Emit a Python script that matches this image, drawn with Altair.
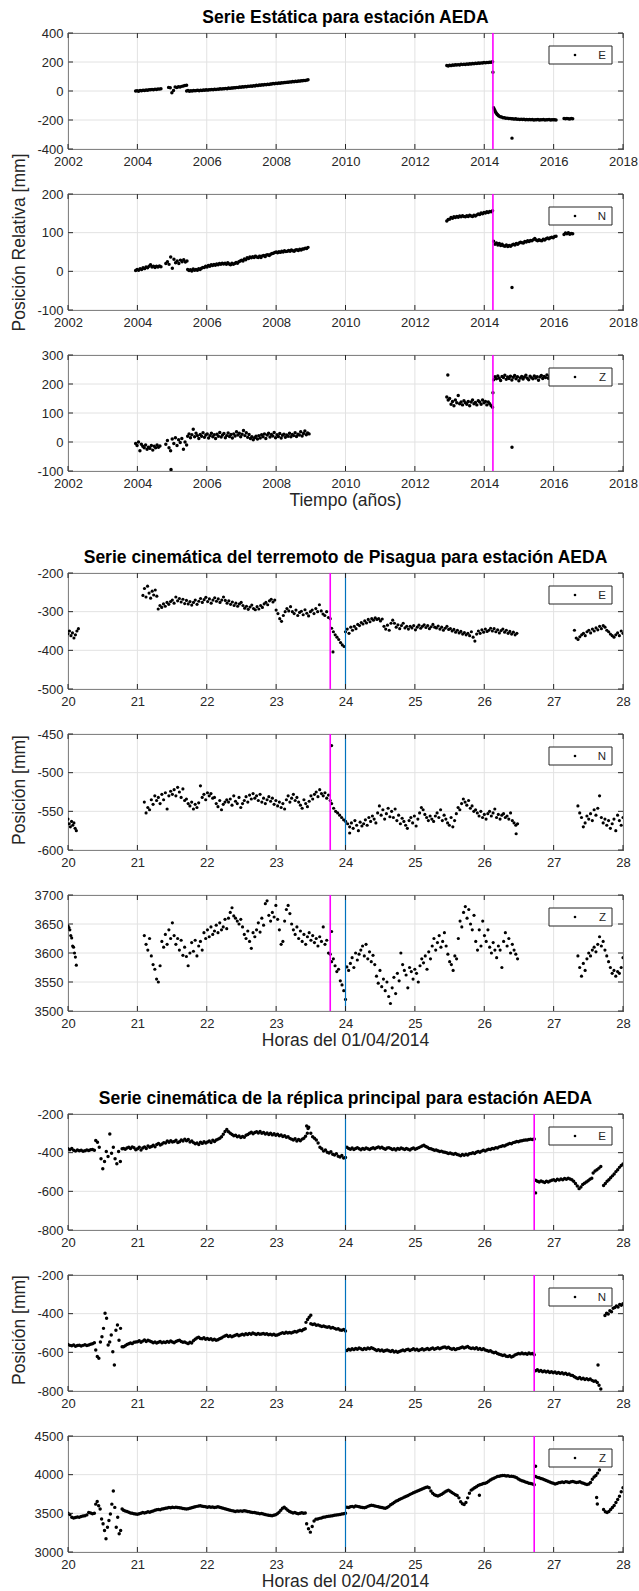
import altair as alt
import numpy as np
import pandas as pd

FONT = "Liberation Sans"
INK = "#262626"
GRID = "#E2E2E2"
MAGENTA = "#FF00FF"
BLUE = "#0072BD"
W, H = 555, 116
TICK = 5

# ---------------- Static series (decimal years, mm) ----------------
est_e_a = [0, 2, -1, 3, 1, 5, 3, 7, 5, 9, 8, 11, 9, 13, 11, 14, 13, 15]
est_e_b = [25, 22, -12, 4, 28, 24, 30, 27, 32, 35, 38, 40]
est_e_c = [0, 3, -1, 2, 0, 4, 1, 3, 5, 2, 6, 4, 7, 5, 8, 6, 9, 8, 11, 9, 12, 10, 13, 12, 15, 13, 16, 15,
           18, 16, 20, 18, 21, 20, 23, 22, 25, 24, 27, 26, 29, 28, 31, 30, 33, 32, 35, 33, 37, 35, 39, 37,
           41, 39, 43, 41, 45, 43, 47, 45, 49, 48, 51, 50, 53, 52, 55, 54, 57, 56, 59, 58, 61, 60, 63, 62,
           65, 64, 67, 66, 69, 68, 71, 70, 73, 72, 75, 77]
est_e_d = [176, 173, 178, 175, 179, 177, 181, 179, 182, 180, 184, 182, 185, 183, 187, 185, 188, 186, 190,
           188, 191, 189, 193, 191, 194, 193, 196, 194, 197, 196, 199, 198, 201]
est_e_e1 = [-115, -125, -135, -145, -152, -158, -163, -167]
est_e_e2 = [-172, -177, -179, -184, -184, -188, -187, -190, -189, -192, -191, -194, -192, -195, -194, -196,
            -194, -197, -195, -198, -196, -198, -197, -199, -197, -200, -198, -199, -197, -200, -198, -199,
            -197, -200, -198, -199, -197, -200, -198, -199, -198, -200]
est_e_f = [-190, -192, -189, -191, -193, -190, -191]
est_e_out = [(2014.25, 130), (2014.80, -325)]

est_n_a = [2, 5, 3, 7, 5, 9, 7, 11, 9, 13, 17, 11, 13, 10, 13, 11, 14, 12]
est_n_b = [20, 25, 18, 37, 8, 31, 22, 27, 20, 29, 25, 30, 24, 27]
est_n_c = [5, 2, 4, 1, 6, 3, 5, 3, 7, 5, 8, 10,
           10, 13, 11, 15, 13, 17, 15, 18, 16, 19, 17, 20, 18, 21, 19,
           21, 18, 22, 19, 17, 21, 18, 20, 23, 21, 25, 27,
           29, 27, 32, 30, 35, 33, 37, 35, 38, 36, 39, 37, 36,
           39, 36, 40, 41, 38, 42, 43, 41, 44, 46, 47, 49,
           50, 48, 51, 49, 52, 50, 53, 51, 52, 54, 52, 55, 53, 52, 55, 56, 54, 57, 55, 58, 58, 60, 59, 62]
est_n_d = [130, 134, 135, 139, 137, 141, 139, 142, 140, 143, 141, 144, 142, 141, 144, 142, 145, 143, 142,
           145, 143, 146, 148, 147, 151, 149, 152, 151, 154, 152, 155, 154, 157]
est_n_e = [78, 70, 73, 68, 72, 67, 70, 66, 65, 68, 64, 67, 65, 68, 70, 68, 72, 70, 73, 75, 74, 73, 77, 76,
           79, 77, 80, 79, 82, 85, 81, 79, 82, 80, 79, 83, 81, 84, 86, 84, 87, 88, 87, 90, 91]
est_n_f = [95, 99, 97, 100, 96, 98, 97]
est_n_out = [(2014.80, -42)]

est_z_a = [-5, -12, 0, -30, -8, -15, -20, -10, -25, -18, -22, -12, -28, -15, -20, -10, -18, -14]
est_z_b = [-8, 5, -20, -30, 10, -5, 15, -12, 8, -2, 12, -25, 0, -10]
est_z_c = [20, 28, 15, 25, 44, 18, 30, 22, 12, 26, 20, 32, 16, 24, 28, 14, 22, 30, 18, 25, 12, 27, 20, 33,
           17, 24, 29, 15, 22, 31, 19, 26, 14, 28, 21, 35, 24, 30, 18, 27, 40, 22, 32, 16, 26, 12, 18, 8,
           15, 20, 10, 22, 14, 25, 18, 28, 12, 24, 30, 17, 26, 21, 33, 15, 25, 19, 29, 14, 23, 27, 16, 24,
           20, 30, 18, 26, 22, 32, 19, 27, 24, 35, 21, 29, 38, 25, 31, 28]
est_z_d = [155, 145, 150, 130, 140, 125, 145, 135, 160, 132, 138, 128, 142, 135, 130, 140, 125, 138, 145,
           132, 136, 128, 142, 138, 130, 145, 135, 140, 128, 138, 132, 125, 120]
est_z_e = [215, 225, 218, 228, 220, 212, 226, 222, 230, 216, 224, 219, 227, 214, 223, 229, 218, 225, 211,
           221, 226, 217, 224, 230, 220, 215, 227, 222, 218, 228, 221, 225, 213, 224, 229, 219, 226, 222,
           231, 220, 227, 224, 229, 226, 232]
est_z_out = [(2004.97, -95), (2012.95, 231), (2014.25, 170), (2014.80, -18)]

# ---------------- Pisagua mainshock, hours of 01/04/2014 ----------------
pis_e_a = [-357, -350, -362, -355, -368, -360, -350, -344]
pis_e_b = [-258, -240, -262, -234, -252, -265, -247, -257, -244, -260]
pis_e_c = [-293, -284, -289, -280, -286, -276, -281, -274,
           -270, -278, -262, -272, -266, -275, -268, -279,
           -271, -280, -274, -283, -276, -270, -281, -273,
           -266, -276, -269, -263, -274, -267, -278, -270,
           -264, -273, -267, -276, -270, -262, -271, -278,
           -272, -281, -275, -284, -278, -286, -280, -276,
           -284, -291, -286, -294, -288, -283, -292, -295,
           -287, -293, -284, -289, -280, -276, -282, -272, -268, -275, -270]
pis_e_d = [-296, -305, -318, -325, -310, -300, -292, -298, -287, -300, -305, -296, -310, -302, -299, -308,
           -295, -304, -311, -300, -296, -305, -292, -300, -282, -298, -306, -310, -300, -315, -318]
pis_e_e = [-343, -352, -360, -366, -372, -380, -386, -390]
pis_e_f = [-352, -345, -356, -340, -348, -338, -344, -333,
           -336, -328, -332, -324, -329, -320, -326, -318,
           -322, -316, -320, -318, -324, -319,
           -338, -345, -335, -348, -330, -322,
           -330, -340, -334, -344, -336, -330, -342, -338,
           -345, -338, -342, -336, -347, -340, -335, -343,
           -338, -334, -341, -336, -344, -339, -333, -340,
           -342, -337, -345, -340, -348, -343, -338, -346,
           -344, -350, -346, -353, -348, -355, -351, -358,
           -354, -360, -356, -362, -352, -366, -376, -358,
           -350, -356, -347, -353, -345, -351, -348, -343,
           -350, -344, -352, -347, -355, -349, -345, -353,
           -348, -356, -351, -358, -353, -360, -356]
pis_e_g = [-348, -368, -372, -365, -360, -356, -362, -352, -348, -355, -345, -350, -342, -347, -338, -344,
           -336, -340, -348, -352, -358, -362, -366, -360, -355, -362, -350, -356]
pis_e_out = [(23.82, -404)]

pis_n_a = [-560, -566, -570, -563, -568, -565, -572, -575]
pis_n_b = [-538, -552, -545, -548, -535, -541, -530, -536,
           -532, -540, -528, -535, -526, -547, -530, -524,
           -528, -522, -530, -519, -525, -532, -521, -536,
           -534, -540, -543, -538, -547, -541, -545, -539,
           -517, -532, -528, -535, -526, -530, -527, -533,
           -532, -540, -544, -536, -548, -541, -538, -535,
           -538, -534, -542, -530, -537, -540, -532, -545,
           -540, -536, -531, -538, -529, -534, -527, -533,
           -530, -536, -528, -538, -533, -540, -535, -531,
           -537, -533, -541, -536, -543, -538, -545, -540,
           -547, -535, -530, -538, -533, -528, -536, -532,
           -538, -542, -546, -535, -540, -544, -537, -530,
           -534, -528, -525, -531, -522, -527, -530, -526, -533, -529, -536]
pis_n_c = [-540, -546, -550, -552, -555, -558, -561, -563, -566, -578]
pis_n_d = [-570, -565, -572, -562, -568, -575, -564, -569,
           -566, -561, -568, -558, -563, -556, -560, -565,
           -552, -543, -555, -548, -560, -553, -546, -557,
           -550, -558, -547, -562, -555, -566, -559, -563,
           -568, -572, -562, -558, -565, -556, -569, -560,
           -552, -545, -548, -554, -558, -562, -556, -560,
           -563, -556, -552, -558, -548, -562, -555, -560,
           -565, -568, -558, -570, -562, -553, -545, -548,
           -540, -534, -538, -542, -536, -546, -543, -550,
           -548, -552, -556, -550, -558, -554, -560, -553,
           -550, -556, -552, -547, -558, -554, -560, -555,
           -553, -558, -556, -560, -552, -562, -565, -568, -566]
pis_n_e = [-543, -552, -558, -570, -565, -556, -560, -553, -562, -548, -555, -546, -530, -558, -565, -560,
           -568, -562, -572, -566, -560, -575, -555, -562, -568, -558]
pis_n_out = [(23.80, -465), (26.46, -579)]

pis_z_a = [3647, 3644, 3640, 3630, 3626, 3612, 3610, 3600, 3593, 3579]
pis_z_b = [3630, 3615, 3605, 3625, 3595, 3580, 3572, 3555,
           3550, 3578, 3620, 3610, 3632, 3615, 3640, 3625,
           3652, 3630, 3615, 3625, 3605, 3622, 3596, 3610,
           3594, 3578, 3600, 3618, 3603, 3622, 3595, 3612,
           3620, 3605, 3635, 3625, 3640, 3628, 3645, 3632,
           3638, 3648, 3635, 3652, 3640, 3645, 3658, 3642,
           3660, 3670, 3678, 3664, 3660, 3655, 3650, 3658,
           3645, 3632, 3625, 3638, 3620, 3608, 3635, 3628,
           3640, 3652, 3636, 3660, 3648, 3685, 3690, 3665,
           3655, 3670, 3662, 3682, 3658, 3640, 3615, 3620,
           3655, 3675, 3682, 3668, 3650, 3640, 3632, 3645,
           3625, 3638, 3620, 3632, 3615, 3628, 3635, 3622,
           3630, 3618, 3625, 3612, 3628, 3620, 3645, 3615, 3622, 3600, 3598]
pis_z_c = [3585, 3590, 3578, 3568, 3572, 3552, 3545, 3535, 3520]
pis_z_d = [3576, 3570, 3582, 3592, 3575, 3600, 3588, 3598,
           3605, 3612, 3595, 3615, 3590, 3602, 3585, 3596,
           3580, 3560, 3548, 3570, 3542, 3555, 3535, 3550,
           3525, 3513, 3540, 3558, 3530, 3565, 3552, 3600,
           3580, 3570, 3562, 3540, 3575, 3568, 3555, 3572,
           3565, 3550, 3578, 3590, 3583, 3595, 3572, 3602,
           3590, 3612, 3625, 3605, 3618, 3630, 3610, 3620,
           3635, 3612, 3598, 3585, 3580, 3570, 3595, 3590,
           3625, 3655, 3645, 3670, 3680, 3660, 3675, 3650,
           3640, 3665, 3620, 3605, 3640, 3612, 3655, 3630,
           3620, 3640, 3610, 3600, 3618, 3605, 3592, 3612,
           3605, 3575, 3620, 3635, 3612, 3625, 3600, 3615, 3605, 3598, 3590]
pis_z_e = [3595, 3575, 3560, 3582, 3570, 3590, 3600, 3595, 3605, 3610, 3602, 3615, 3628, 3612, 3620, 3605,
           3595, 3585, 3575, 3565, 3570, 3560, 3568, 3565, 3575, 3592]
pis_z_out = [(23.80, 3637)]

# ---------------- Main aftershock, hours of 02/04/2014 ----------------
rep_e_a = [-380, -385, -378, -388, -392, -386, -390, -388, -393, -390, -386, -389, -385, -384, -388]
rep_e_b = [-337, -346, -372, -431, -483, -446, -394, -420, -303, -403, -372, -431, -457, -394, -446, -380]
rep_e_c = [-378, -382, -376, -372, -378, -370, -375, -385,
           -380, -372, -386, -376, -370, -378, -365, -372,
           -368, -362, -370, -358, -352, -360, -355, -348,
           -350, -340, -346, -338, -345, -342, -336, -348,
           -344, -335, -340, -330, -338, -332, -345, -340,
           -348, -354, -350, -358, -346, -352, -344, -350,
           -345, -340, -348, -336, -342, -334, -330, -325,
           -318, -305, -290, -280, -292, -300, -306, -312,
           -310, -318, -314, -322, -316, -320, -310, -306,
           -300, -294, -302, -296, -292, -298, -290, -300,
           -296, -304, -298, -306, -300, -308, -302, -310,
           -305, -312, -308, -316, -312, -320, -318, -326,
           -330, -335, -328, -340, -332, -338, -330, -325, -315, -300]
rep_e_d = [-300, -318, -325, -335, -350, -372, -380, -392, -386, -398, -402, -395, -408, -412, -405, -418,
           -422, -415, -428, -425]
rep_e_e = [-372, -378, -382, -376, -384, -378, -374, -380,
           -385, -378, -382, -376, -380, -384, -378, -375,
           -380, -374, -370, -376, -372, -378, -382, -376,
           -374, -378, -384, -380, -386, -378, -382, -376,
           -380, -384, -378, -382, -386, -380, -376, -382,
           -378, -374, -370, -366, -362, -368, -372, -378,
           -380, -384, -388, -386, -390, -394, -392, -396,
           -398, -400, -404, -402, -406, -408, -404, -410,
           -412, -416, -410, -414, -408, -412, -406, -404,
           -400, -404, -398, -394, -398, -392, -388, -392,
           -386, -382, -384, -378, -380, -374, -376, -370,
           -368, -364, -366, -360, -356, -352, -354, -348,
           -346, -342, -344, -340, -338, -336, -334, -335, -332, -330, -332, -329]
rep_e_f = [-543, -548, -552, -546, -550, -554, -548, -552, -546, -543, -540, -545, -538, -542, -536, -540,
           -534, -538, -532, -536, -540, -548, -560, -572, -586, -578, -565, -558, -552, -545, -538, -532]
rep_e_g = [-505, -495, -488, -480, -472]
rep_e_h = [-570, -560, -548, -540, -530, -520, -510, -498, -488, -476, -466, -458]
rep_e_out = [(23.44, -262), (23.46, -275), (23.47, -268), (26.74, -608)]

rep_n_a = [-560, -564, -566, -562, -568, -565, -563, -567, -564, -561, -565, -562, -558, -556, -550]
rep_n_b = [-588, -622, -631, -547, -519, -476, -398, -424, -562, -547, -510, -597, -666, -486, -459, -538,
           -476, -571]
rep_n_c = [-571, -566, -560, -556, -552, -555, -548, -546,
           -545, -540, -548, -542, -536, -544, -538, -541,
           -545, -550, -546, -552, -548, -544, -550, -546,
           -549, -544, -548, -541, -546, -550, -544, -540,
           -538, -544, -548, -546, -551, -555, -548, -552,
           -540, -532, -526, -522, -528, -530, -525, -532,
           -528, -534, -530, -536, -532, -538, -535, -530,
           -526, -520, -515, -512, -518, -514, -520, -516,
           -512, -508, -514, -510, -506, -510, -504, -508,
           -502, -506, -500, -504, -508, -503, -507, -505,
           -503, -507, -504, -509, -506, -510, -507, -512,
           -510, -506, -502, -498, -502, -496, -500, -497,
           -500, -496, -492, -495, -490, -486, -488, -482, -478]
rep_n_d = [-445, -430, -418, -408]
rep_n_e = [-452, -456, -454, -460, -458, -462, -466, -464, -468, -470, -468, -474, -472, -476, -480, -478,
           -484, -486, -482, -490]
rep_n_f = [-590, -584, -588, -582, -586, -580, -584, -578,
           -582, -586, -580, -584, -578, -582, -576, -580,
           -585, -590, -586, -592, -588, -594, -590, -588,
           -592, -596, -590, -598, -594, -600, -596, -592,
           -588, -592, -586, -584, -590, -586, -582, -588,
           -584, -590, -586, -582, -588, -584, -580, -586,
           -582, -578, -584, -580, -576, -582, -578, -574,
           -572, -578, -574, -580, -584, -580, -586, -582,
           -580, -576, -572, -578, -574, -570, -576, -580,
           -578, -582, -576, -584, -580, -586, -582, -588,
           -590, -594, -592, -598, -602, -600, -606, -610,
           -612, -616, -614, -620, -622, -618, -624, -620,
           -614, -610, -606, -608, -604, -608, -606, -610, -604, -608, -606, -612]
rep_n_g = [-695, -690, -698, -694, -700, -696, -702, -698, -704, -700, -706, -702, -708, -704, -710, -706,
           -712, -708, -715, -712, -718, -720, -726, -732, -736, -730, -738, -734, -740, -736, -742, -738,
           -745, -750, -748, -756, -770, -790]
rep_n_h = [-410, -398, -402, -385, -390, -372, -368, -360, -365, -352, -356, -348]
rep_n_out = [(27.64, -665)]

rep_z_a = [3500, 3485, 3450, 3440, 3445, 3452, 3448, 3458, 3465, 3470, 3480, 3510, 3505, 3495, 3500]
rep_z_b = [3619, 3653, 3598, 3555, 3428, 3364, 3279, 3172, 3321, 3406, 3491, 3619, 3789, 3577, 3321, 3449,
           3236, 3279, 3555]
rep_z_c = [3540, 3530, 3525, 3515, 3505, 3500, 3495, 3490,
           3488, 3495, 3500, 3510, 3505, 3512, 3520, 3515,
           3525, 3530, 3540, 3545, 3550, 3545, 3555, 3560,
           3565, 3570, 3575, 3572, 3578, 3574, 3580, 3576,
           3572, 3568, 3562, 3558, 3555, 3560, 3566, 3572,
           3578, 3585, 3590, 3594, 3598, 3592, 3588, 3585,
           3580, 3584, 3578, 3582, 3576, 3580, 3585, 3578,
           3572, 3565, 3558, 3552, 3545, 3540, 3535, 3530,
           3525, 3530, 3526, 3532, 3528, 3534, 3530, 3525,
           3520, 3515, 3510, 3512, 3505, 3500, 3495, 3498,
           3490, 3485, 3480, 3476, 3472, 3470, 3475, 3482,
           3495, 3515, 3540, 3565, 3578, 3560, 3540, 3525,
           3515, 3505, 3510, 3500, 3495, 3502, 3508, 3500, 3505]
rep_z_d = [3364, 3300, 3257, 3330, 3400, 3425, 3428, 3435, 3440, 3448, 3452, 3458, 3462, 3465, 3470, 3475,
           3478, 3482, 3486, 3490, 3494, 3500]
rep_z_e = [3580, 3575, 3585, 3590, 3582, 3595, 3590, 3585,
           3580, 3575, 3572, 3580, 3590, 3598, 3605, 3600,
           3595, 3590, 3585, 3580, 3575, 3570, 3565, 3575,
           3590, 3610, 3625, 3640, 3655, 3665, 3680, 3690,
           3700, 3710, 3722, 3730, 3745, 3755, 3765, 3775,
           3785, 3795, 3805, 3815, 3825, 3835, 3840, 3830,
           3790, 3760, 3740, 3730, 3725, 3735, 3745, 3760,
           3775, 3790, 3800, 3785, 3770, 3755, 3740, 3730,
           3700, 3650, 3625, 3615, 3640, 3700, 3760, 3800,
           3815, 3830, 3845, 3860, 3870, 3875, 3885, 3890,
           3900, 3915, 3930, 3945, 3955, 3965, 3975, 3980,
           3985, 3990, 3988, 3982, 3985, 3978, 3980, 3975,
           3970, 3960, 3945, 3930, 3920, 3915, 3905, 3900, 3890, 3885, 3878, 3870]
rep_z_f = [3975, 3965, 3960, 3950, 3945, 3935, 3925, 3915, 3905, 3895, 3888, 3880, 3885, 3895, 3900, 3905,
           3898, 3910, 3905, 3900, 3908, 3912, 3905, 3898, 3902, 3908, 3895, 3888, 3880, 3872, 3880, 3900,
           3940, 3970, 3990, 4020, 4060]
rep_z_h = [3550, 3520, 3510, 3525, 3550, 3575, 3600, 3640, 3680, 3720, 3780, 3830]
rep_z_out = [(25.93, 3735), (26.74, 4110), (27.62, 3705), (27.63, 3620)]

# Event times: Pisagua mainshock and main aftershock, plus 00h marker
t_pisagua_yr = 2014.25
t_pisagua_h = 23.78
t_replica_h = 26.72
t_midnight = 24.0

years = [2002, 2004, 2006, 2008, 2010, 2012, 2014, 2016, 2018]
hours = [20, 21, 22, 23, 24, 25, 26, 27, 28]


def series(segments, extra=()):
    t, v = [], []
    for t0, t1, vals in segments:
        t.extend(np.linspace(t0, t1, len(vals)).tolist())
        v.extend(vals)
    for a, b in extra:
        t.append(a)
        v.append(b)
    return pd.DataFrame({"t": t, "v": v})


def text_layer(s, x, y, size, weight="normal", color=INK, angle=0, align="center", baseline="alphabetic"):
    return alt.Chart(pd.DataFrame({"s": [s]})).mark_text(
        font=FONT, fontSize=size, fontWeight=weight, color=color, angle=angle,
        align=align, baseline=baseline
    ).encode(x=alt.value(x), y=alt.value(y), text="s:N")


def panel(points, xdom, xticks, ydom, yticks, events, comp, dot=10,
          title=None, xtitle=None, ytitle=None, ytitle_y=None, anchor=False):
    xs = alt.Scale(domain=xdom, nice=False, zero=False)
    ys = alt.Scale(domain=ydom, nice=False, zero=False)
    common = dict(title=None, grid=False, ticks=False, tickSize=0, domain=False,
                  labelFont=FONT, labelFontSize=13, labelColor=INK, labelOverlap=False,
                  labelExpr="toString(datum.value)")
    xaxis = alt.Axis(values=xticks, labelPadding=6, labelFlush=False, **common)
    yaxis = alt.Axis(values=yticks, labelPadding=5, **common)

    def X():
        return alt.X("t:Q", scale=xs, axis=xaxis)

    def Y():
        return alt.Y("v:Q", scale=ys, axis=yaxis)

    xt = pd.DataFrame({"t": xticks})
    yt = pd.DataFrame({"v": yticks})
    layers = [
        alt.Chart(xt).mark_rule(color=GRID, strokeWidth=1).encode(x=X()),
        alt.Chart(yt).mark_rule(color=GRID, strokeWidth=1).encode(y=Y()),
        alt.Chart(points).mark_circle(size=dot, color="black", opacity=1, clip=True).encode(x=X(), y=Y()),
    ]
    for t, c, w in events:
        layers.append(alt.Chart(pd.DataFrame({"t": [t]})).mark_rule(color=c, strokeWidth=w).encode(x=X()))
    # inward tick marks on all four sides
    layers += [
        alt.Chart(xt).mark_rule(color=INK).encode(x=X(), y=alt.value(H), y2=alt.value(H - TICK)),
        alt.Chart(xt).mark_rule(color=INK).encode(x=X(), y=alt.value(0), y2=alt.value(TICK)),
        alt.Chart(yt).mark_rule(color=INK).encode(y=Y(), x=alt.value(0), x2=alt.value(TICK)),
        alt.Chart(yt).mark_rule(color=INK).encode(y=Y(), x=alt.value(W), x2=alt.value(W - TICK)),
    ]
    # legend box
    leg = pd.DataFrame({"name": [comp]})
    layers += [
        alt.Chart(leg).mark_rect(fill="white", stroke=INK, strokeWidth=1).encode(
            x=alt.value(481), x2=alt.value(544), y=alt.value(13), y2=alt.value(31)),
        alt.Chart(leg).mark_circle(size=7, color="black", opacity=1).encode(
            x=alt.value(507), y=alt.value(22)),
        alt.Chart(leg).mark_text(font=FONT, fontSize=11.5, color=INK, align="right",
                                 baseline="middle").encode(
            x=alt.value(538), y=alt.value(22.5), text="name:N"),
    ]
    if title:
        layers.append(text_layer(title, W / 2, -10, 17.5, weight="bold", color="black"))
    if xtitle:
        layers.append(text_layer(xtitle, W / 2, H + 35, 17.5))
    if ytitle:
        layers.append(text_layer(ytitle, -48, ytitle_y, 17.5, angle=270, baseline="middle"))
    if anchor:
        layers.append(alt.Chart(leg).mark_rect(color="white").encode(
            x=alt.value(-67), x2=alt.value(-66), y=alt.value(-32), y2=alt.value(-31)))
    return alt.layer(*layers).properties(width=W, height=H)


def spacer(h):
    return alt.Chart(pd.DataFrame({"a": [0]})).mark_rect(opacity=0).encode(
        x=alt.value(0), y=alt.value(0)
    ).properties(width=W, height=h, view=alt.ViewBackground(strokeOpacity=0))


ev_static = [(t_pisagua_yr, MAGENTA, 1.6)]
ev_pis = [(t_pisagua_h, MAGENTA, 1.6), (t_midnight, BLUE, 1.2)]
ev_rep = [(t_midnight, BLUE, 1.2), (t_replica_h, MAGENTA, 1.6)]

df_est_e = series([(2003.95, 2004.68, est_e_a), (2004.90, 2005.42, est_e_b), (2005.42, 2008.92, est_e_c),
                   (2012.92, 2014.24, est_e_d), (2014.27, 2014.40, est_e_e1), (2014.42, 2016.07, est_e_e2),
                   (2016.30, 2016.55, est_e_f)], est_e_out)
df_est_n = series([(2003.95, 2004.68, est_n_a), (2004.82, 2005.43, est_n_b), (2005.45, 2008.92, est_n_c),
                   (2012.92, 2014.24, est_n_d), (2014.27, 2016.07, est_n_e), (2016.30, 2016.55, est_n_f)],
                  est_n_out)
df_est_z = series([(2003.95, 2004.65, est_z_a), (2004.82, 2005.42, est_z_b), (2005.45, 2008.95, est_z_c),
                   (2012.92, 2014.24, est_z_d), (2014.27, 2016.05, est_z_e)], est_z_out)

df_pis_e = series([(20.00, 20.15, pis_e_a), (21.08, 21.28, pis_e_b), (21.30, 22.98, pis_e_c),
                   (23.00, 23.78, pis_e_d), (23.80, 23.98, pis_e_e), (24.00, 26.47, pis_e_f),
                   (27.30, 28.00, pis_e_g)], pis_e_out)
df_pis_n = series([(20.00, 20.12, pis_n_a), (21.10, 23.78, pis_n_b), (23.80, 24.06, pis_n_c),
                   (24.06, 26.48, pis_n_d), (27.35, 28.00, pis_n_e)], pis_n_out)
df_pis_z = series([(20.00, 20.12, pis_z_a), (21.10, 23.78, pis_z_b), (23.80, 24.00, pis_z_c),
                   (24.02, 26.48, pis_z_d), (27.35, 28.00, pis_z_e)], pis_z_out)

df_rep_e = series([(20.00, 20.38, rep_e_a), (20.40, 20.78, rep_e_b), (20.80, 23.45, rep_e_c),
                   (23.50, 24.00, rep_e_d), (24.02, 26.72, rep_e_e), (26.74, 27.55, rep_e_f),
                   (27.57, 27.68, rep_e_g), (27.72, 28.00, rep_e_h)], rep_e_out)
df_rep_n = series([(20.00, 20.38, rep_n_a), (20.40, 20.78, rep_n_b), (20.80, 23.42, rep_n_c),
                   (23.43, 23.50, rep_n_d), (23.50, 24.00, rep_n_e), (24.02, 26.72, rep_n_f),
                   (26.74, 27.68, rep_n_g), (27.74, 28.00, rep_n_h)], rep_n_out)
df_rep_z = series([(20.00, 20.38, rep_z_a), (20.40, 20.78, rep_z_b), (20.80, 23.42, rep_z_c),
                   (23.44, 24.00, rep_z_d), (24.02, 26.72, rep_z_e), (26.74, 27.66, rep_z_f),
                   (27.72, 28.00, rep_z_h)], rep_z_out)

panels = [
    panel(df_est_e, [2002, 2018], years, [-400, 400], [-400, -200, 0, 200, 400], ev_static, "E", dot=12,
          title="Serie Estática para estación AEDA", anchor=True),
    panel(df_est_n, [2002, 2018], years, [-100, 200], [-100, 0, 100, 200], ev_static, "N", dot=12,
          ytitle="Posición Relativa [mm]", ytitle_y=48.5),
    panel(df_est_z, [2002, 2018], years, [-100, 300], [-100, 0, 100, 200, 300], ev_static, "Z", dot=12,
          xtitle="Tiempo (años)"),
    spacer(12),
    panel(df_pis_e, [20, 28], hours, [-500, -200], [-500, -400, -300, -200], ev_pis, "E", dot=10,
          title="Serie cinemática del terremoto de Pisagua para estación AEDA"),
    panel(df_pis_n, [20, 28], hours, [-600, -450], [-600, -550, -500, -450], ev_pis, "N", dot=10,
          ytitle="Posición [mm]", ytitle_y=56),
    panel(df_pis_z, [20, 28], hours, [3500, 3700], [3500, 3550, 3600, 3650, 3700], ev_pis, "Z", dot=10,
          xtitle="Horas del 01/04/2014"),
    spacer(13),
    panel(df_rep_e, [20, 28], hours, [-800, -200], [-800, -600, -400, -200], ev_rep, "E", dot=12,
          title="Serie cinemática de la réplica principal para estación AEDA"),
    panel(df_rep_n, [20, 28], hours, [-800, -200], [-800, -600, -400, -200], ev_rep, "N", dot=12,
          ytitle="Posición [mm]", ytitle_y=55),
    panel(df_rep_z, [20, 28], hours, [3000, 4500], [3000, 3500, 4000, 4500], ev_rep, "Z", dot=12,
          xtitle="Horas del 02/04/2014"),
]

chart = alt.vconcat(*panels, spacing=45, bounds="flush").properties(
    padding=0
).configure_view(stroke=INK, strokeWidth=1)

chart.save("out.html", embed_options={"renderer": "svg", "actions": False})
